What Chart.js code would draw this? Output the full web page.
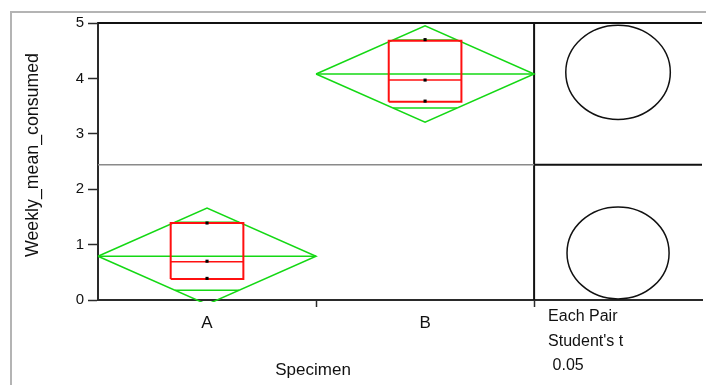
<!DOCTYPE html>
<html>
<head>
<meta charset="utf-8">
<script src="https://cdn.jsdelivr.net/npm/chart.js@4/dist/chart.umd.min.js"></script>
<style>
  html, body { margin: 0; padding: 0; background: #fff; overflow: hidden; }
  #chart { display: block; }
</style>
</head>
<body>
<canvas id="chart" width="706" height="385"></canvas>
<script>
// groups and values
const groups = ['A', 'B'];
const observations = [[0.39, 0.70, 1.39], [3.59, 3.97, 4.70]];
const boxQ1 = [0.38, 3.58];
const boxMedian = [0.69, 3.97];
const boxQ3 = [1.39, 4.68];
const groupMeans = [0.79, 4.08];
const ciHalfWidth = [0.87, 0.87];
const grandMean = 2.44;
const circleCenters = [0.85, 4.11];
const circleRadii = [0.83, 0.85];
const yTicks = [0, 1, 2, 3, 4, 5];
const pairNotes = ['Each Pair', "Student's t", ' 0.05'];

const GREEN = '#14d814';
const RED = '#ff1010';
const AXIS = '#2a2a2a';
const FONT = '"Liberation Sans", Arial, sans-serif';
const X_MAX = 2.77; // group slots plus the comparison-circle panel

/**
 * Build a polyline dataset
 */
function lineSet(points, color, width, order, clip) {
  return {
    data: points,
    showLine: true,
    borderColor: color,
    borderWidth: width,
    pointRadius: 0,
    tension: 0,
    fill: false,
    order: order,
    clip: clip === undefined ? 1 : clip
  };
}

const datasets = [];
const overlapHalf = 0.5 * (1 - Math.SQRT1_2);
const boxHalf = 1 / 6;

groups.forEach((g, i) => {
  const mid = i + 0.5;
  const m = groupMeans[i];
  const h = ciHalfWidth[i];
  const k = h * Math.SQRT1_2;

  // means diamond
  datasets.push(lineSet([
    { x: i, y: m }, { x: mid, y: m + h }, { x: i + 1, y: m },
    { x: mid, y: m - h }, { x: i, y: m }
  ], GREEN, 1.5, 3, { left: 2, right: 2, top: 2, bottom: 2 }));
  datasets.push(lineSet([{ x: i, y: m }, { x: i + 1, y: m }], GREEN, 1.5, 3));
  // overlap marks
  datasets.push(lineSet([{ x: mid - overlapHalf, y: m + k }, { x: mid + overlapHalf, y: m + k }], GREEN, 1.5, 3));
  datasets.push(lineSet([{ x: mid - overlapHalf, y: m - k }, { x: mid + overlapHalf, y: m - k }], GREEN, 1.5, 3));

  // box plot
  datasets.push(lineSet([
    { x: mid - boxHalf, y: boxQ1[i] }, { x: mid + boxHalf, y: boxQ1[i] },
    { x: mid + boxHalf, y: boxQ3[i] }, { x: mid - boxHalf, y: boxQ3[i] },
    { x: mid - boxHalf, y: boxQ1[i] }
  ], RED, 2, 1));
  datasets.push(lineSet([{ x: mid - boxHalf, y: boxMedian[i] }, { x: mid + boxHalf, y: boxMedian[i] }], RED, 1.5, 1));

  // observations
  datasets.push({
    data: observations[i].map(v => ({ x: mid, y: v })),
    pointStyle: 'rect',
    pointRadius: 2.2,
    backgroundColor: '#000',
    borderWidth: 0,
    showLine: false,
    order: 0
  });
});

// grand mean, panel divider and frame lines
datasets.push(lineSet([{ x: 0, y: grandMean }, { x: groups.length, y: grandMean }], '#8a8a8a', 1.5, 4));
datasets.push(lineSet([{ x: groups.length, y: grandMean }, { x: X_MAX, y: grandMean }], '#111', 2, 4, false));
datasets.push(lineSet([{ x: groups.length, y: 0 }, { x: groups.length, y: 5 }], '#111', 2, 4, false));
datasets.push(lineSet([{ x: 0, y: 5 }, { x: X_MAX, y: 5 }], '#111', 2, 4, false));

// outer report frame, comparison circles and free text
const extrasPlugin = {
  id: 'extras',
  beforeDraw(chart) {
    const { ctx, width, height } = chart;
    ctx.save();
    ctx.strokeStyle = '#b4b4b4';
    ctx.lineWidth = 2;
    ctx.beginPath();
    ctx.moveTo(11, height + 5);
    ctx.lineTo(11, 12);
    ctx.lineTo(width + 5, 12);
    ctx.stroke();
    ctx.restore();
  },
  afterDatasetsDraw(chart) {
    const { ctx, scales: { x, y } } = chart;
    const cx = x.getPixelForValue((groups.length + X_MAX) / 2);
    ctx.save();
    ctx.strokeStyle = '#111';
    ctx.lineWidth = 1.5;
    circleCenters.forEach((c, i) => {
      const cy = y.getPixelForValue(c);
      const ry = Math.abs(y.getPixelForValue(c + circleRadii[i]) - cy);
      ctx.beginPath();
      ctx.ellipse(cx, cy, ry * 1.11, ry, 0, 0, Math.PI * 2);
      ctx.stroke();
    });
    ctx.restore();
  },
  afterDraw(chart) {
    const { ctx, scales: { x } } = chart;
    ctx.save();
    ctx.fillStyle = '#111';
    ctx.textBaseline = 'middle';

    ctx.font = '17px ' + FONT;
    ctx.textAlign = 'center';
    const sx = (x.getPixelForValue(0) + x.getPixelForValue(groups.length)) / 2;
    ctx.fillText('Specimen', sx - 3, 370);

    ctx.save();
    ctx.translate(33, 155);
    ctx.rotate(-Math.PI / 2);
    ctx.font = '19px ' + FONT;
    ctx.fillText('Weekly_mean_consumed', 0, 0, 204);
    ctx.restore();

    ctx.font = '16px ' + FONT;
    ctx.textAlign = 'left';
    const nx = x.getPixelForValue(groups.length) + 14;
    pairNotes.forEach((t, i) => ctx.fillText(t, nx, 317 + i * 24.5));
    ctx.restore();
  }
};

new Chart(document.getElementById('chart'), {
  type: 'scatter',
  data: { datasets },
  options: {
    responsive: false,
    animation: false,
    layout: { padding: { top: 23, left: 0, right: 0, bottom: 0 } },
    plugins: { legend: { display: false }, tooltip: { enabled: false } },
    scales: {
      x: {
        type: 'linear',
        min: 0,
        max: X_MAX,
        afterBuildTicks: (scale) => {
          const vals = [];
          groups.forEach((g, i) => { vals.push(i + 0.5, i + 1); });
          scale.ticks = vals.map(v => ({ value: v }));
        },
        afterFit: (scale) => { scale.height = 85; },
        ticks: {
          autoSkip: false,
          maxRotation: 0,
          padding: 6,
          color: '#111',
          font: { family: FONT, size: 17 },
          callback: (v) => (v % 1 === 0.5 ? groups[Math.floor(v)] : '')
        },
        grid: {
          drawOnChartArea: false,
          tickLength: 7,
          tickWidth: 1.5,
          tickColor: (c) => (c.tick && c.tick.value % 1 === 0 ? AXIS : 'rgba(0,0,0,0)')
        },
        border: { color: AXIS, width: 2 }
      },
      y: {
        min: 0,
        max: 5,
        afterBuildTicks: (scale) => { scale.ticks = yTicks.map(v => ({ value: v })); },
        afterFit: (scale) => { scale.width = 98; },
        ticks: {
          padding: 4,
          color: '#111',
          font: { family: FONT, size: 15 }
        },
        grid: {
          drawOnChartArea: false,
          tickLength: 10,
          tickWidth: 1.5,
          tickColor: AXIS
        },
        border: { color: AXIS, width: 2 }
      }
    }
  },
  plugins: [extrasPlugin]
});
</script>
</body>
</html>
